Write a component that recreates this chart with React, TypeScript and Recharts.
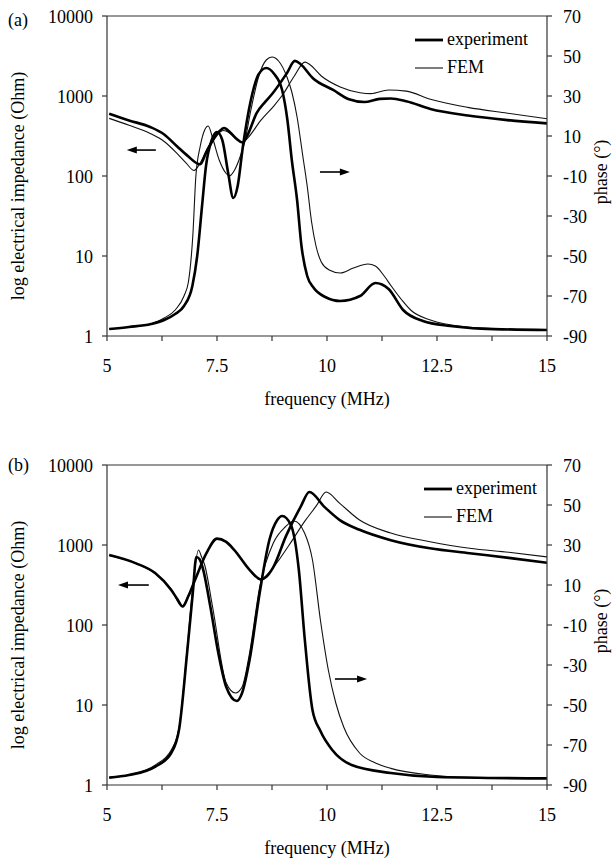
import React from 'react';
import { ComposedChart, Line, XAxis, YAxis, ReferenceLine, Label } from 'recharts';

const FONT = "'Liberation Serif', 'Times New Roman', Times, serif";
const TXT: React.CSSProperties = { fontFamily: FONT, fontSize: 18 };

const freqTicks = [5, 6.25, 7.5, 8.75, 10, 11.25, 12.5, 13.75, 15];
const freqLabels = [5, 7.5, 10, 12.5, 15];
const impTicks = [1, 10, 100, 1000, 10000];
const phaseTicks = [-90, -70, -50, -30, -10, 10, 30, 50, 70];

type Pt = [number, number];

// ---------- Panel (a) ----------
const expImpA: Pt[] = [
  [5.05, 600], [5.5, 495], [5.98, 410], [6.3, 330], [6.59, 235], [6.85, 175], [7.07, 142], [7.12, 140],
  [7.25, 195], [7.41, 282], [7.55, 360], [7.66, 398], [7.8, 350], [7.95, 290], [8.08, 262], [8.2, 330],
  [8.4, 610], [8.6, 850], [8.77, 1090], [9.09, 1940], [9.27, 2750], [9.4, 2500], [9.68, 1670],
  [10.14, 1190], [10.5, 910], [10.85, 840], [11.2, 920], [11.45, 930], [11.8, 860], [12.35, 690],
  [13.2, 570], [14.1, 500], [15, 455],
];
const femImpA: Pt[] = [
  [5.05, 525], [5.5, 430], [5.98, 340], [6.3, 270], [6.59, 192], [6.8, 145], [6.98, 117], [7.1, 140],
  [7.3, 230], [7.5, 330], [7.65, 370], [7.8, 340], [7.95, 285], [8.08, 262], [8.2, 300], [8.5, 500],
  [8.8, 760], [9.0, 1050], [9.25, 1750], [9.5, 2650], [9.6, 2500], [9.87, 1780], [10.3, 1300],
  [10.75, 1100], [11.0, 1070], [11.4, 1190], [11.8, 1150], [12.35, 910], [13.2, 720], [14.1, 610], [15, 520],
];
const expPhaseA: Pt[] = [
  [5.05, -86.5], [5.5, -85.5], [6.0, -84], [6.3, -82], [6.55, -79], [6.75, -75], [6.94, -65], [7.05, -50],
  [7.16, -25], [7.25, -5], [7.38, 8], [7.5, 12], [7.62, 8], [7.75, -8], [7.87, -21], [7.97, -15],
  [8.09, 5], [8.27, 28], [8.45, 41], [8.62, 44], [8.8, 41], [8.98, 33], [9.1, 18], [9.2, -2],
  [9.32, -22], [9.42, -45], [9.55, -60], [9.7, -66], [9.96, -70.5], [10.3, -72.5], [10.75, -70],
  [11.1, -63.5], [11.4, -66.5], [11.73, -77], [12.18, -82.5], [12.8, -85], [13.5, -86.3], [15, -87],
];
const femPhaseA: Pt[] = [
  [5.05, -86.5], [5.5, -85.5], [6.0, -84], [6.3, -81], [6.55, -77], [6.75, -70], [6.85, -63], [6.95, -40],
  [7.02, -10], [7.12, 5], [7.22, 13], [7.3, 15], [7.4, 9], [7.55, -2], [7.7, -8.5], [7.78, -10],
  [7.9, -7], [8.0, -2], [8.13, 7], [8.27, 23], [8.45, 40], [8.62, 48], [8.75, 49.5], [8.9, 47.5],
  [9.09, 39.5], [9.2, 32], [9.32, 19.5], [9.45, 0], [9.55, -15], [9.65, -33], [9.75, -45], [9.87, -53],
  [10.05, -57], [10.3, -58.5], [10.6, -56], [10.93, -54], [11.1, -55], [11.3, -60], [11.46, -65],
  [11.7, -72], [11.9, -77], [12.35, -82], [13.2, -85.5], [14, -86.5], [15, -87],
];

// ---------- Panel (b) ----------
const expImpB: Pt[] = [
  [5.05, 750], [5.66, 590], [6.1, 443], [6.46, 274], [6.6, 210], [6.72, 170], [6.85, 230], [7.0, 365],
  [7.26, 790], [7.5, 1200], [7.7, 1100], [7.89, 870], [8.24, 490], [8.5, 370], [8.62, 400], [8.78, 530],
  [9.07, 1300], [9.4, 3000], [9.6, 4600], [9.94, 3000], [10.29, 2050], [10.74, 1550], [11.45, 1150],
  [12.34, 910], [13.24, 790], [14.13, 690], [15, 600],
];
const femImpB: Pt[] = [
  [5.05, 740], [5.66, 590], [6.1, 440], [6.46, 280], [6.7, 172], [6.85, 235], [7.0, 370], [7.26, 790],
  [7.5, 1200], [7.7, 1100], [7.89, 870], [8.24, 490], [8.5, 370], [8.68, 450], [9.14, 1000],
  [9.5, 2000], [9.76, 3100], [9.98, 4590], [10.29, 3320], [10.74, 2050], [11.45, 1410], [12.34, 1100],
  [13.24, 910], [14.13, 810], [15, 710],
];
const expPhaseB: Pt[] = [
  [5.05, -86.3], [5.5, -85], [6.1, -80.8], [6.46, -74], [6.64, -62], [6.82, -24], [6.95, 6], [7.03, 24],
  [7.1, 23], [7.17, 19], [7.35, -1], [7.53, -24], [7.71, -41], [7.95, -48], [8.07, -44], [8.24, -27.5],
  [8.47, 6], [8.69, 32.5], [8.87, 42.5], [8.98, 44.5], [9.18, 40], [9.36, 17.5], [9.49, -16],
  [9.67, -52.5], [9.85, -63], [10.12, -72.5], [10.56, -80], [11.45, -84], [12.5, -86], [15, -86.7],
];
const femPhaseB: Pt[] = [
  [5.05, -86.3], [5.5, -85], [6.1, -80], [6.46, -72.5], [6.64, -61], [6.82, -22.5], [6.95, 9],
  [7.08, 27.5], [7.15, 24], [7.22, 20], [7.4, -1], [7.71, -39], [7.92, -44], [8.07, -41], [8.24, -24],
  [8.47, 9], [8.78, 31], [9.05, 39], [9.25, 42], [9.49, 36], [9.67, 22.5], [9.85, -7.5], [10.03, -32.5],
  [10.2, -49], [10.38, -61], [10.74, -74], [11.1, -79], [11.45, -81.7], [12.34, -85], [13.2, -86.2],
  [15, -86.7],
];

// arrows: [fromFreq, toFreq, value, axis]
const arrowsA: [number, number, number, string][] = [
  [6.11, 5.45, 211, 'imp'],
  [9.84, 10.52, -8, 'ph'],
];
const arrowsB: [number, number, number, string][] = [
  [5.95, 5.25, 316, 'imp'],
  [10.18, 10.91, -37, 'ph'],
];

const legendLabels = ['experiment', 'FEM'];

const toData = (pts: Pt[]) => pts.map(([f, v]) => ({ f, v }));

const AXIS = '#333';

const XTick = (p: any) => {
  const v = p.payload.value;
  const show = freqLabels.includes(v);
  return (
    <text x={p.x} y={p.y} dy={13} textAnchor="middle" style={TXT} fill="#000">
      {show ? String(v) : ''}
    </text>
  );
};
const LeftTick = (p: any) => (
  <text x={p.x} y={p.y} dy={7} textAnchor="end" style={TXT} fill="#000">
    {p.payload.value}
  </text>
);
const RightTick = (p: any) => (
  <text x={p.x} y={p.y} dy={7} textAnchor="start" style={TXT} fill="#000">
    {p.payload.value}
  </text>
);

const arrowShape = (p: any) => {
  const { x1, y1, x2, y2 } = p;
  const dir = Math.sign(x2 - x1) || 1;
  const hl = 10;
  const hw = 3.5;
  return (
    <g>
      <line x1={x1} y1={y1} x2={x2 - dir * hl * 0.7} y2={y2} stroke="#000" strokeWidth={1.6} />
      <polygon
        points={`${x2},${y2} ${x2 - dir * hl},${y2 - hw} ${x2 - dir * hl},${y2 + hw}`}
        fill="#000"
      />
    </g>
  );
};

type PanelProps = {
  expImp: Pt[];
  femImp: Pt[];
  expPhase: Pt[];
  femPhase: Pt[];
  arrows: [number, number, number, string][];
  letter: string;
  letterY: number;
  legendX: number;
  top: number;
};

const Panel = ({ expImp, femImp, expPhase, femPhase, arrows, letter, letterY, legendX, top }: PanelProps) => (
  <div style={{ position: 'absolute', left: 0, top, width: 613, height: 420 }}>
    <ComposedChart width={613} height={420} margin={{ top: 16, right: 0, bottom: 0, left: 0 }} style={TXT}>
      <XAxis
        type="number"
        dataKey="f"
        domain={[5, 15]}
        ticks={freqTicks}
        interval={0}
        allowDataOverflow
        height={84}
        tickSize={5}
        tickMargin={18}
        stroke={AXIS}
        strokeWidth={1.2}
        tick={(p: any) => <XTick {...p} />}
      >
        <Label
          content={() => (
            <text x={327} y={405} textAnchor="middle" style={TXT} fill="#000">
              frequency (MHz)
            </text>
          )}
        />
      </XAxis>
      <YAxis
        yAxisId="imp"
        scale="log"
        domain={[1, 10000]}
        ticks={impTicks}
        interval={0}
        allowDataOverflow
        width={107}
        tickSize={5}
        tickMargin={9}
        stroke={AXIS}
        strokeWidth={1.2}
        tick={(p: any) => <LeftTick {...p} />}
      >
        <Label
          content={() => (
            <text
              transform="translate(23.5,186) rotate(-90)"
              textAnchor="middle"
              style={TXT}
              fill="#000"
            >
              log electrical impedance (Ohm)
            </text>
          )}
        />
      </YAxis>
      <YAxis
        yAxisId="ph"
        orientation="right"
        domain={[-90, 70]}
        ticks={phaseTicks}
        interval={0}
        allowDataOverflow
        width={66}
        tickSize={5}
        tickMargin={11}
        stroke={AXIS}
        strokeWidth={1.2}
        tick={(p: any) => <RightTick {...p} />}
      >
        <Label
          content={() => (
            <text
              transform="translate(607,172) rotate(-90)"
              textAnchor="middle"
              style={TXT}
              fill="#000"
            >
              phase (°)
            </text>
          )}
        />
      </YAxis>
      <ReferenceLine yAxisId="imp" y={10000} stroke={AXIS} strokeWidth={1.2} />
      {arrows.map(([f1, f2, v, ax], i) => (
        <ReferenceLine
          key={'ar' + i}
          yAxisId={ax}
          segment={[{ x: f1, y: v }, { x: f2, y: v }]}
          ifOverflow="visible"
          shape={arrowShape}
        />
      ))}
      <Line yAxisId="imp" data={toData(femImp)} dataKey="v" type="monotone" stroke="#111" strokeWidth={1.1} dot={false} isAnimationActive={false} />
      <Line yAxisId="ph" data={toData(femPhase)} dataKey="v" type="monotone" stroke="#111" strokeWidth={1.1} dot={false} isAnimationActive={false} />
      <Line yAxisId="imp" data={toData(expImp)} dataKey="v" type="monotone" stroke="#000" strokeWidth={2.6} dot={false} isAnimationActive={false} />
      <Line yAxisId="ph" data={toData(expPhase)} dataKey="v" type="monotone" stroke="#000" strokeWidth={2.6} dot={false} isAnimationActive={false} />
    </ComposedChart>
    <svg width={613} height={420} style={{ position: 'absolute', left: 0, top: 0, pointerEvents: 'none' }}>
      <text x={8} y={letterY} style={TXT} fill="#000">{letter}</text>
      <line x1={legendX} y1={40} x2={legendX + 28} y2={40} stroke="#000" strokeWidth={2.8} />
      <text x={legendX + 32} y={45} style={TXT} fill="#000">{legendLabels[0]}</text>
      <line x1={legendX} y1={68} x2={legendX + 28} y2={68} stroke="#111" strokeWidth={1.1} />
      <text x={legendX + 32} y={73} style={TXT} fill="#000">{legendLabels[1]}</text>
    </svg>
  </div>
);

export default function App() {
  return (
    <div style={{ position: 'absolute', left: 0, top: 0, width: 613, height: 859, overflow: 'hidden', background: '#fff', fontFamily: FONT }}>
      <Panel
        expImp={expImpA}
        femImp={femImpA}
        expPhase={expPhaseA}
        femPhase={femPhaseA}
        arrows={arrowsA}
        letter="(a)"
        letterY={26}
        legendX={415}
        top={0}
      />
      <Panel
        expImp={expImpB}
        femImp={femImpB}
        expPhase={expPhaseB}
        femPhase={femPhaseB}
        arrows={arrowsB}
        letter="(b)"
        letterY={22}
        legendX={424}
        top={449}
      />
    </div>
  );
}
